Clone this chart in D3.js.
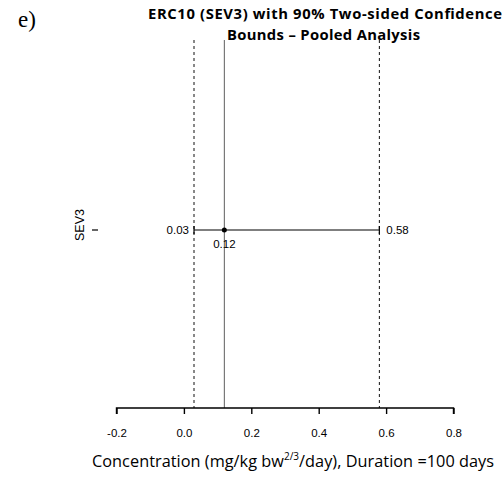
<!DOCTYPE html>
<html>
<head>
<meta charset="utf-8">
<script src="https://cdn.jsdelivr.net/npm/d3@7"></script>
<style>
  body { margin: 0; background: #fff; }
  svg { display: block; }
</style>
</head>
<body>
<div id="chart"></div>
<script>
    var width = 503,
        height = 477;

    // data
    var categories = ['SEV3'];
    var estimates = [0.12];
    var lowerBounds = [0.03];
    var upperBounds = [0.58];
    var xTicks = [-0.2, 0.0, 0.2, 0.4, 0.6, 0.8];

    var svg = d3.select('#chart').append('svg')
        .attr('width', width)
        .attr('height', height);

    var x = d3.scaleLinear().domain([-0.2, 0.8]).range([116.5, 453.5]);
    var plotTop = 40, plotBottom = 408;
    // single row, drawn a bit above the middle
    var y = d3.scalePoint().domain(categories).range([230, 230]);

    // panel letter
    svg.append('text')
        .attr('x', 18).attr('y', 27)
        .style('font-family', 'Liberation Serif, DejaVu Serif, serif')
        .style('font-size', '23px')
        .text('e)');

    // title
    var title = svg.append('g')
        .style('font-family', 'Open Sans, sans-serif')
        .style('font-weight', 'bold')
        .style('font-size', '14.8px');
    title.append('text').attr('x', 148).attr('y', 19)
        .attr('textLength', 354).attr('lengthAdjust', 'spacing')
        .text('ERC10 (SEV3) with 90% Two-sided Confidence');
    title.append('text').attr('x', 227).attr('y', 40)
        .attr('textLength', 193).attr('lengthAdjust', 'spacing')
        .text('Bounds \u2013 Pooled Analysis');

    // vertical reference lines
    lowerBounds.concat(upperBounds).forEach(function(v){
        svg.append('line')
            .attr('x1', x(v)).attr('x2', x(v))
            .attr('y1', plotTop).attr('y2', plotBottom)
            .attr('stroke', '#111').attr('stroke-width', 1)
            .attr('stroke-dasharray', '3,3');
    });
    estimates.forEach(function(v){
        svg.append('line')
            .attr('x1', x(v)).attr('x2', x(v))
            .attr('y1', plotTop).attr('y2', plotBottom)
            .attr('stroke', '#333').attr('stroke-width', 0.8);
    });

    // x axis
    var xAxis = d3.axisBottom(x).tickValues(xTicks).tickSize(6)
        .tickFormat(function(d){ return d3.format('.1f')(d).replace('\u2212', '-'); });
    var gx = svg.append('g')
        .attr('transform', 'translate(0,' + plotBottom + ')')
        .call(xAxis);
    gx.select('.domain').attr('stroke', '#000').attr('stroke-width', 1.4)
        .attr('d', 'M' + x(-0.2) + ',6V0H' + x(0.8) + 'V6');
    gx.selectAll('.tick line').attr('stroke', '#000').attr('stroke-width', 1.4);
    gx.selectAll('.tick text')
        .attr('y', 21)
        .style('font-family', 'Liberation Sans, Arial, sans-serif')
        .style('font-size', '11.5px')
        .attr('fill', '#000');

    // axis title
    var xt = svg.append('text')
        .attr('x', 92).attr('y', 467)
        .attr('textLength', 402).attr('lengthAdjust', 'spacing')
        .style('font-family', 'Open Sans, sans-serif')
        .style('font-size', '16.3px');
    xt.append('tspan').text('Concentration (mg/kg bw');
    xt.append('tspan').attr('dy', -7).style('font-size', '10px').text('2/3');
    xt.append('tspan').attr('dy', 7).text('/day), Duration =100 days');

    var labFont = 'Liberation Sans, Arial, sans-serif';
    // y axis: label and tick only
    categories.forEach(function(c, i){
        var cy = y(c);
        svg.append('line')
            .attr('x1', 92).attr('x2', 98)
            .attr('y1', cy).attr('y2', cy)
            .attr('stroke', '#000').attr('stroke-width', 1.2);
        svg.append('text')
            .attr('transform', 'translate(84,' + (cy - 5) + ') rotate(-90)')
            .attr('text-anchor', 'middle')
            .style('font-family', labFont)
            .style('font-size', '12.5px')
            .text(c);

        // interval
        svg.append('line')
            .attr('x1', x(lowerBounds[i])).attr('x2', x(upperBounds[i]))
            .attr('y1', cy).attr('y2', cy)
            .attr('stroke', '#000').attr('stroke-width', 1.2);
        [lowerBounds[i], upperBounds[i]].forEach(function(v){
            svg.append('line')
                .attr('x1', x(v)).attr('x2', x(v))
                .attr('y1', cy - 4).attr('y2', cy + 4)
                .attr('stroke', '#000').attr('stroke-width', 1.2);
        });
        svg.append('circle')
            .attr('cx', x(estimates[i])).attr('cy', cy).attr('r', 2.5)
            .attr('fill', '#000');

        svg.append('text')
            .attr('x', x(lowerBounds[i]) - 5).attr('y', cy + 4)
            .attr('text-anchor', 'end')
            .style('font-family', labFont).style('font-size', '11.5px')
            .text(d3.format('.2f')(lowerBounds[i]));
        svg.append('text')
            .attr('x', x(estimates[i])).attr('y', cy + 18)
            .attr('text-anchor', 'middle')
            .style('font-family', labFont).style('font-size', '11.5px')
            .text(d3.format('.2f')(estimates[i]));
        svg.append('text')
            .attr('x', x(upperBounds[i]) + 7).attr('y', cy + 4)
            .style('font-family', labFont).style('font-size', '11.5px')
            .text(d3.format('.2f')(upperBounds[i]));
    });
</script>
</body>
</html>
